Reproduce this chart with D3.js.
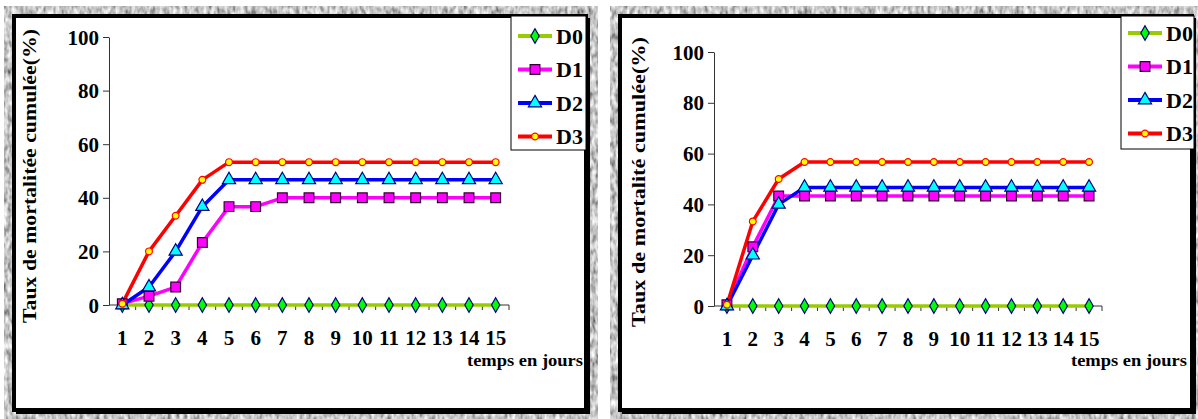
<!DOCTYPE html>
<html>
<head>
<meta charset="utf-8">
<script src="https://cdn.jsdelivr.net/npm/d3@7"></script>
<style>
  html, body { margin: 0; padding: 0; background: #fff; }
  svg { display: block; }
  text { font-family: "Liberation Serif", "Times New Roman", serif; font-weight: bold; fill: #000; }
</style>
</head>
<body>
<script>
// days on the x axis
const days = [1, 2, 3, 4, 5, 6, 7, 8, 9, 10, 11, 12, 13, 14, 15];
const yTicks = [0, 20, 40, 60, 80, 100];
const seriesNames = ["D0", "D1", "D2", "D3"];

// left chart values (% cumulated mortality)
const leftD0 = [0, 0, 0, 0, 0, 0, 0, 0, 0, 0, 0, 0, 0, 0, 0];
const leftD1 = [0.5, 3.3, 6.7, 23.3, 36.7, 36.7, 40, 40, 40, 40, 40, 40, 40, 40, 40];
const leftD2 = [0, 6.7, 20, 36.7, 46.7, 46.7, 46.7, 46.7, 46.7, 46.7, 46.7, 46.7, 46.7, 46.7, 46.7];
const leftD3 = [0.5, 20, 33.3, 46.7, 53.3, 53.3, 53.3, 53.3, 53.3, 53.3, 53.3, 53.3, 53.3, 53.3, 53.3];

// right chart values
const rightD0 = [0, 0, 0, 0, 0, 0, 0, 0, 0, 0, 0, 0, 0, 0, 0];
const rightD1 = [0.5, 23.3, 43.3, 43.3, 43.3, 43.3, 43.3, 43.3, 43.3, 43.3, 43.3, 43.3, 43.3, 43.3, 43.3];
const rightD2 = [0, 20, 40, 46.7, 46.7, 46.7, 46.7, 46.7, 46.7, 46.7, 46.7, 46.7, 46.7, 46.7, 46.7];
const rightD3 = [0.5, 33.3, 50, 56.7, 56.7, 56.7, 56.7, 56.7, 56.7, 56.7, 56.7, 56.7, 56.7, 56.7, 56.7];

const W = 1198, H = 419;

// line + marker look for each series
const styles = {
  D0: { line: "#99cc00", fill: "#00ff00", stroke: "#000080", shape: d3.symbolDiamond, size: 60 },
  D1: { line: "#ff00ff", fill: "#ff00ff", stroke: "#330033", shape: d3.symbolSquare, size: 95 },
  D2: { line: "#0000ff", fill: "#00ffff", stroke: "#000080", shape: d3.symbolTriangle, size: 75 },
  D3: { line: "#ff0000", fill: "#ffff00", stroke: "#ff0000", shape: d3.symbolCircle, size: 36 },
};

const svg = d3.select("body").append("svg").attr("width", W).attr("height", H);

// grey mottled paper round each panel
const defs = svg.append("defs");
const filt = defs.append("filter")
  .attr("id", "grain")
  .attr("x", 0).attr("y", 0).attr("width", 1).attr("height", 1);
filt.append("feTurbulence")
  .attr("type", "fractalNoise")
  .attr("baseFrequency", "0.25 0.12")
  .attr("numOctaves", 2)
  .attr("seed", 3);
filt.append("feColorMatrix")
  .attr("type", "matrix")
  .attr("values", "1.3 0 0 0 -0.08  1.3 0 0 0 -0.08  1.3 0 0 0 -0.08  0 0 0 0 1");

function drawPanel(cfg) {
  const g = svg.append("g");

  // frame
  g.append("rect")
    .attr("x", cfg.paper[0]).attr("y", cfg.paper[1])
    .attr("width", cfg.paper[2]).attr("height", cfg.paper[3])
    .attr("fill", "#aaa").attr("filter", "url(#grain)");
  const f = cfg.frame;
  g.append("rect")
    .attr("x", f[0] + 2).attr("y", f[1] + 2)
    .attr("width", f[2]).attr("height", f[3])
    .attr("fill", "#000");
  g.append("rect")
    .attr("x", f[0]).attr("y", f[1])
    .attr("width", f[2] - 2).attr("height", f[3] - 2)
    .attr("fill", "#fff").attr("stroke", "#000").attr("stroke-width", 4);

  const x = d3.scaleBand().domain(days).range(cfg.xRange).padding(0);
  const y = d3.scaleLinear().domain([0, 100]).range(cfg.yRange);

  // y axis
  const yAxis = g.append("g")
    .attr("transform", `translate(${cfg.xRange[0]},0)`)
    .call(d3.axisLeft(y).tickValues(yTicks).tickSize(6).tickPadding(4).tickSizeOuter(0));
  yAxis.select(".domain").attr("stroke", "#333");
  yAxis.selectAll(".tick line").attr("stroke", "#333");
  yAxis.selectAll(".tick text")
    .attr("font-size", 21)
    .attr("font-family", "Liberation Serif")
    .attr("font-weight", "bold")
    .attr("dy", "0.34em");

  // x axis: ticks sit between categories
  const y0 = y(0);
  const xAxis = g.append("g").attr("transform", `translate(0,${y0})`);
  xAxis.append("line")
    .attr("x1", cfg.xRange[0]).attr("x2", cfg.xRange[1])
    .attr("stroke", "#333");
  xAxis.selectAll(".sep")
    .data(days)
    .join("line")
    .attr("class", "sep")
    .attr("x1", (d) => x(d) + x.bandwidth())
    .attr("x2", (d) => x(d) + x.bandwidth())
    .attr("y1", 0).attr("y2", 5)
    .attr("stroke", "#333");
  xAxis.selectAll(".lab")
    .data(days)
    .join("text")
    .attr("class", "lab")
    .attr("x", (d) => x(d) + x.bandwidth() / 2)
    .attr("y", cfg.xLabelY - y0)
    .attr("text-anchor", "middle")
    .attr("font-size", 21)
    .text((d) => d);

  // axis titles
  g.append("text")
    .attr("x", cfg.xTitle[0]).attr("y", cfg.xTitle[1])
    .attr("font-size", 17)
    .attr("textLength", 116)
    .attr("lengthAdjust", "spacingAndGlyphs")
    .text("temps en jours");
  g.append("text")
    .attr("transform", `translate(${cfg.yTitle[0]},${cfg.yTitle[1]}) rotate(-90)`)
    .attr("text-anchor", "middle")
    .attr("font-size", 18)
    .attr("textLength", cfg.yTitleLen)
    .attr("lengthAdjust", "spacingAndGlyphs")
    .text(cfg.yTitleText);

  // series
  const line = d3.line()
    .x((d, i) => x(days[i]) + x.bandwidth() / 2)
    .y((d) => y(d));

  cfg.series.forEach((vals, k) => {
    const st = styles[seriesNames[k]];
    g.append("path")
      .datum(vals)
      .attr("d", line)
      .attr("fill", "none")
      .attr("stroke", st.line)
      .attr("stroke-width", 3.5)
      .attr("stroke-linejoin", "round");
  });
  cfg.series.forEach((vals, k) => {
    const st = styles[seriesNames[k]];
    g.selectAll(null)
      .data(vals)
      .join("path")
      .attr("d", d3.symbol(st.shape, st.size))
      .attr("transform", (d, i) => `translate(${x(days[i]) + x.bandwidth() / 2},${y(d)})`)
      .attr("fill", st.fill)
      .attr("stroke", st.stroke)
      .attr("stroke-width", 1.2);
  });

  // legend
  const L = cfg.legend;
  g.append("rect")
    .attr("x", L.x).attr("y", L.y)
    .attr("width", L.w).attr("height", L.h)
    .attr("fill", "#fff").attr("stroke", "#000").attr("stroke-width", 1);
  const items = g.selectAll(".leg")
    .data(seriesNames)
    .join("g")
    .attr("class", "leg")
    .attr("transform", (d, i) => `translate(${L.x + 7},${L.firstY + i * L.step})`);
  items.append("line")
    .attr("x1", 0).attr("x2", 34)
    .attr("stroke", (d) => styles[d].line)
    .attr("stroke-width", 4);
  items.append("path")
    .attr("transform", "translate(17,0)")
    .attr("d", (d) => d3.symbol(styles[d].shape, styles[d].size)())
    .attr("fill", (d) => styles[d].fill)
    .attr("stroke", (d) => styles[d].stroke)
    .attr("stroke-width", 1.2);
  items.append("text")
    .attr("x", 38).attr("y", 7.5)
    .attr("font-size", 22)
    .text((d) => d);
}

drawPanel({
  paper: [4, 6, 594, 413],
  frame: [14, 16, 574, 396],
  xRange: [109, 509],
  yRange: [305, 37],
  xLabelY: 345,
  xTitle: [467, 366],
  yTitle: [36, 176],
  yTitleLen: 294,
  yTitleText: "Taux de mortalitée cumulée(%)",
  series: [leftD0, leftD1, leftD2, leftD3],
  legend: { x: 511, y: 16, w: 75, h: 134, firstY: 36, step: 33.5 },
});

drawPanel({
  paper: [610, 6, 588, 413],
  frame: [620, 16, 574, 396],
  xRange: [714, 1102],
  yRange: [306, 52],
  xLabelY: 346,
  xTitle: [1071, 366],
  yTitle: [645, 182],
  yTitleLen: 290,
  yTitleText: "Taux de mortalité cumulée(%)",
  series: [rightD0, rightD1, rightD2, rightD3],
  legend: { x: 1121, y: 16, w: 73, h: 133, firstY: 33, step: 33.5 },
});
</script>
</body>
</html>
